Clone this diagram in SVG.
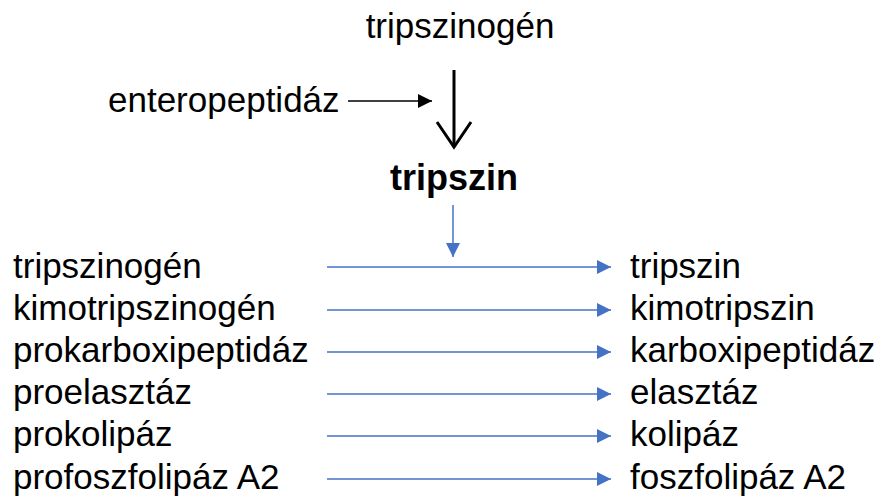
<svg xmlns="http://www.w3.org/2000/svg" width="876" height="496" viewBox="0 0 876 496">
<defs>
<style>
text{font-family:"Liberation Sans",Arial,sans-serif;font-size:35px;fill:#000}
.b{font-weight:bold;font-size:36px}
.blue{stroke:#4472C4;stroke-width:1.5;fill:none}
.blk{stroke:#000;fill:none}
</style>
<marker id="ab" viewBox="0 0 14 14" refX="14" refY="7" markerWidth="14" markerHeight="14" markerUnits="userSpaceOnUse" orient="auto"><path d="M0,0L14,7L0,14Z" fill="#4472C4"/></marker>
<marker id="ak" viewBox="0 0 14 14" refX="14" refY="7" markerWidth="14" markerHeight="14" markerUnits="userSpaceOnUse" orient="auto"><path d="M0,0L14,7L0,14Z" fill="#000"/></marker>
</defs>
<rect width="876" height="496" fill="#fff"/>
<g id="n-top"><text x="460" y="38" text-anchor="middle">tripszinogén</text></g>
<g id="n-entero"><text x="108" y="112">enteropeptidáz</text></g>
<g id="n-tripszin"><text class="b" x="454" y="190" text-anchor="middle">tripszin</text></g>
<g id="n-left">
<text x="13" y="278">tripszinogén</text>
<text x="13" y="320">kimotripszinogén</text>
<text x="13" y="362">prokarboxipeptidáz</text>
<text x="13" y="404">proelasztáz</text>
<text x="13" y="446">prokolipáz</text>
<text x="13" y="489">profoszfolipáz A2</text>
</g>
<g id="n-right">
<text x="630" y="278">tripszin</text>
<text x="630" y="320">kimotripszin</text>
<text x="630" y="362">karboxipeptidáz</text>
<text x="630" y="404">elasztáz</text>
<text x="630" y="446">kolipáz</text>
<text x="630" y="489">foszfolipáz A2</text>
</g>
<g id="connectors">
<line class="blk" x1="348" y1="101" x2="432" y2="101" stroke-width="1.5" marker-end="url(#ak)"/>
<line class="blk" x1="454" y1="70" x2="454" y2="146" stroke-width="3"/>
<polyline class="blk" points="437,122 454,147 471,122" stroke-width="3"/>
<line class="blue" x1="453" y1="205" x2="453" y2="257" marker-end="url(#ab)"/>
<line class="blue" x1="327" y1="267" x2="611" y2="267" marker-end="url(#ab)"/>
<line class="blue" x1="327" y1="310" x2="611" y2="310" marker-end="url(#ab)"/>
<line class="blue" x1="327" y1="352" x2="611" y2="352" marker-end="url(#ab)"/>
<line class="blue" x1="327" y1="394" x2="611" y2="394" marker-end="url(#ab)"/>
<line class="blue" x1="327" y1="436" x2="611" y2="436" marker-end="url(#ab)"/>
<line class="blue" x1="327" y1="479" x2="611" y2="479" marker-end="url(#ab)"/>
</g>
</svg>
